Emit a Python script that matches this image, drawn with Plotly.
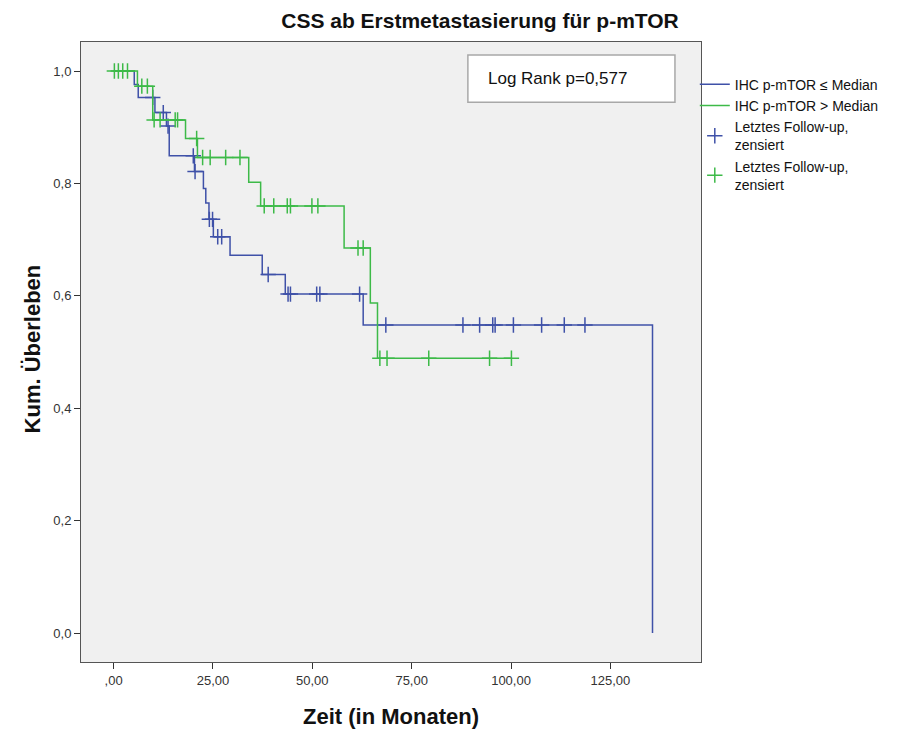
import numpy as np
import plotly.graph_objects as go

# ---- data ----
blue_t = [0, 5.2, 6.2, 10.4, 13.3, 14.0, 20.35, 22.6, 23.2, 24.0, 25.1, 29.3, 37.4, 43.2, 62.8, 135.6]
blue_s = [1.0, 0.976, 0.953, 0.926, 0.902, 0.849, 0.821, 0.791, 0.765, 0.736, 0.705, 0.672, 0.638, 0.603, 0.548, 0.0]
blue_cens = [9.85, 12.5, 13.7, 20.05, 20.5, 24.1, 24.9, 26.2, 27.2, 38.9, 43.9, 44.5, 51.1, 51.9,
             61.9, 68.5, 87.9, 92.1, 95.4, 96.0, 100.6, 107.7, 113.4, 118.6]

green_t = [0, 6.0, 9.85, 18.1, 21.1, 34.0, 37.0, 58.0, 64.6, 66.4, 100.1]
green_s = [1.0, 0.973, 0.913, 0.880, 0.846, 0.802, 0.760, 0.685, 0.587, 0.489, 0.489]
green_cens = [0.2, 1.2, 2.3, 3.5, 7.1, 8.5, 10.2, 11.7, 15.5, 16.1, 20.9, 22.4, 24.3, 28.2, 31.8,
              37.9, 40.3, 43.7, 44.5, 49.9, 51.4, 61.5, 62.8, 67.0, 68.8, 79.3, 94.6, 100.1]

x_ticks = [0, 25, 50, 75, 100, 125]
x_ticktext = [",00", "25,00", "50,00", "75,00", "100,00", "125,00"]
y_ticks = [0, 0.2, 0.4, 0.6, 0.8, 1.0]
y_ticktext = ["0,0", "0,2", "0,4", "0,6", "0,8", "1,0"]

names = ["IHC p-mTOR ≤ Median", "IHC p-mTOR > Median", "Letztes Follow-up,<br>zensiert"]
BLUE = "#3f51a8"
GREEN = "#3dba48"
FONT = "Liberation Sans, Arial"


def step_at(t, s, c):
    t = np.asarray(t); s = np.asarray(s)
    idx = np.searchsorted(t, np.asarray(c), side="right") - 1
    return s[idx]


fig = go.Figure()
fig.add_trace(go.Scatter(x=blue_t, y=blue_s, mode="lines", line=dict(shape="hv", color=BLUE, width=1.5),
                         name=names[0], legendrank=1, hoverinfo="skip"))
fig.add_trace(go.Scatter(x=blue_cens, y=step_at(blue_t, blue_s, blue_cens), mode="markers",
                         marker=dict(symbol="cross-thin", size=11, line=dict(color=BLUE, width=1.5)),
                         name=names[2], legendrank=3))
fig.add_trace(go.Scatter(x=green_t, y=green_s, mode="lines", line=dict(shape="hv", color=GREEN, width=1.5),
                         name=names[1], legendrank=2, hoverinfo="skip"))
fig.add_trace(go.Scatter(x=green_cens, y=step_at(green_t, green_s, green_cens), mode="markers",
                         marker=dict(symbol="cross-thin", size=11, line=dict(color=GREEN, width=1.5)),
                         name=names[2], legendrank=4))

axis_common = dict(showgrid=False, zeroline=False, showline=True, mirror=True, linecolor="#555555",
                   linewidth=1, ticks="outside", ticklen=6, tickcolor="#333333",
                   tickfont=dict(family=FONT, size=13, color="#333333"))

fig.update_layout(
    width=897, height=734,
    margin=dict(l=81, r=196, t=42, b=72, autoexpand=False),
    paper_bgcolor="white", plot_bgcolor="#f0f0f0",
    title=dict(text="<b>CSS ab Erstmetastasierung für p-mTOR</b>", x=480 / 897, xref="container",
               xanchor="center", y=1 - 21 / 734, yref="container", yanchor="middle",
               font=dict(family=FONT, size=21, color="#111111")),
    xaxis=dict(range=[-8.2, 147.8], tickvals=x_ticks, ticktext=x_ticktext, **axis_common),
    yaxis=dict(range=[-0.0516, 1.0516], tickvals=y_ticks, ticktext=y_ticktext, **axis_common),
    legend=dict(x=0.99, xanchor="left", y=0.957, yanchor="top", bgcolor="rgba(0,0,0,0)",
                font=dict(family=FONT, size=14, color="#111111"),
                tracegroupgap=0, itemwidth=30),
    showlegend=True,
)

fig.add_shape(type="rect", xref="paper", yref="paper", x0=0.624, x1=0.958, y0=0.903, y1=0.979,
              fillcolor="white", line=dict(color="#a8a8a8", width=1.5), layer="above")
fig.add_annotation(xref="paper", yref="paper", x=0.654, y=0.941, xanchor="left", yanchor="middle",
                   text="Log Rank p=0,577", showarrow=False,
                   font=dict(family=FONT, size=17, color="#111111"))
fig.add_annotation(xref="paper", yref="paper", x=0, xshift=-63, y=0.505, textangle=-90,
                   text="<b>Kum. Überleben</b>", showarrow=False,
                   font=dict(family=FONT, size=22, color="#111111"))
fig.add_annotation(xref="paper", yref="paper", x=0.5, y=-0.0887, yanchor="middle",
                   text="<b>Zeit (in Monaten)</b>", showarrow=False,
                   font=dict(family=FONT, size=22, color="#111111"))

fig.write_html("out.html")
